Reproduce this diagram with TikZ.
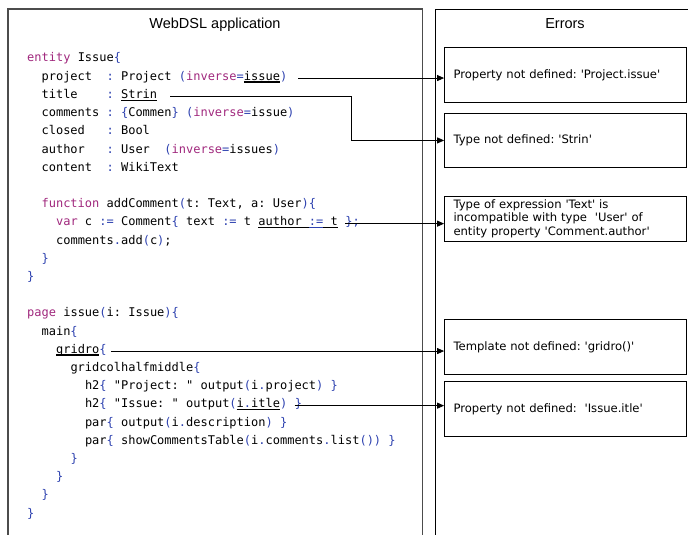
\documentclass[tikz,border=0pt]{standalone}
\usepackage{fontspec}
\usetikzlibrary{positioning,arrows.meta}

\newfontfamily\codefont{DejaVu Sans Mono}
\newfontfamily\errfont{DejaVu Sans}
\newfontfamily\titlefont{Liberation Sans}

\definecolor{kwcol}{RGB}{160,40,125}
\definecolor{symcol}{RGB}{45,65,175}
\newcommand\kw[1]{\textcolor{kwcol}{#1}}
\newcommand\sy[1]{\textcolor{symcol}{#1}}
\newsavebox\markbox
\newcommand\errmark[1]{\sbox\markbox{#1}\rlap{\rule[-2.6pt]{\wd\markbox}{1.4pt}}\usebox\markbox}

\tikzset{
  panel/.style={draw=black!70, line width=1.2pt},
  paneltitle/.style={anchor=base, inner sep=0pt, font=\titlefont\fontsize{14.5}{17}\selectfont},
  code/.style={anchor=base west, inner sep=0pt, font=\codefont\fontsize{12}{14}\selectfont\frenchspacing},
  errbox/.style={draw, line width=0.8pt, text width=224pt, inner xsep=9pt, minimum height=54.5pt,
    align=left, font=\errfont\fontsize{11.6}{13.3}\selectfont\frenchspacing},
  link/.style={draw=black, line width=0.8pt, -{Triangle[length=7pt,width=6pt]}}
}

\begin{document}
\begin{tikzpicture}[x=1pt,y=1pt]
  \useasboundingbox (0,0) rectangle (688,-535);

  % Panels
  \draw[panel] (8,-535) -- (8,-9) -- (422.5,-9) -- (422.5,-535);
  \draw[panel, draw=black, line width=0.9pt] (435,-535) -- (435,-9) -- (688,-9);
  \node[paneltitle] (apptitle) at (215,-28.3) {WebDSL application};
  \node[paneltitle] (errtitle) at (565,-28.3) {Errors};

  % Entity
  \node[code] (l0) at (27,-62) {\kw{entity} Issue\sy{\{}};
  \node[code] (l1) at (41.4,-80.2) {project~~\sy{:} Project \sy{(}\kw{inverse}\sy{=}\errmark{issue}\sy{)}};
  \node[code] (l2) at (41.4,-98.4) {title~~~~\sy{:} \errmark{Strin}};
  \node[code] (l3) at (41.4,-116.6) {comments \sy{:} \sy{\{}Commen\sy{\}} \sy{(}\kw{inverse}\sy{=}issue\sy{)}};
  \node[code] (l4) at (41.4,-134.8) {closed~~~\sy{:} Bool};
  \node[code] (l5) at (41.4,-153) {author~~~\sy{:} User~~\sy{(}\kw{inverse}\sy{=}issues\sy{)}};
  \node[code] (l6) at (41.4,-171.2) {content~~\sy{:} WikiText};

  % Function
  \node[code] (l8) at (41.4,-207.6) {\kw{function} addComment\sy{(}t: Text, a: User\sy{)\{}};
  \node[code] (l9) at (55.9,-225.8) {\kw{var} c \sy{:=} Comment\sy{\{} text \sy{:=} t \errmark{author~}\sy{\errmark{:=}}\errmark{~t}};
  \node[code] (l9e) at ([xshift=7.22pt]l9.base east) {\sy{\};}};
  \node[code] (l10) at (55.9,-244) {comments\sy{.}add\sy{(}c\sy{)};};
  \node[code] (l11) at (41.4,-262.2) {\sy{\}}};
  \node[code] (l12) at (27,-280.4) {\sy{\}}};

  % Page
  \node[code] (l14) at (27,-316.8) {\kw{page} issue\sy{(}i: Issue\sy{)\{}};
  \node[code] (l15) at (41.4,-335) {main\sy{\{}};
  \node[code] (l16) at (55.9,-353.2) {\errmark{gridro}\sy{\{}};
  \node[code] (l17) at (70.3,-371.4) {gridcolhalfmiddle\sy{\{}};
  \node[code] (l18) at (84.8,-389.6) {h2\sy{\{} "Project: " output\sy{(}i\sy{.}project\sy{)} \sy{\}}};
  \node[code] (l19) at (84.8,-407.8) {h2\sy{\{} "Issue: " output\sy{(}\errmark{i\sy{.}itle}\sy{)}};
  \node[code] (l19e) at ([xshift=7.22pt]l19.base east) {\sy{\}}};
  \node[code] (l20) at (84.8,-426) {par\sy{\{} output\sy{(}i\sy{.}description\sy{)} \sy{\}}};
  \node[code] (l21) at (84.8,-444.2) {par\sy{\{} showCommentsTable\sy{(}i\sy{.}comments\sy{.}list\sy{())} \sy{\}}};
  \node[code] (l22) at (70.3,-462.4) {\sy{\}}};
  \node[code] (l23) at (55.9,-480.6) {\sy{\}}};
  \node[code] (l24) at (41.4,-498.8) {\sy{\}}};
  \node[code] (l25) at (27,-517) {\sy{\}}};

  % Errors
  \node[errbox] (err1) at (565.5,-75) {Property not defined: 'Project.issue'};
  \node[errbox, below=10.4pt of err1, minimum height=54pt] (err2) {Type not defined: 'Strin'};
  \node[errbox, below=28.3pt of err2, minimum height=44.3pt] (err3)
    {Type of expression 'Text' is\\incompatible with type~~'User' of\\entity property 'Comment.author'};
  \node[errbox, below=78pt of err3, minimum height=55pt] (err4) {Template not defined: 'gridro()'};
  \node[errbox, below=6pt of err4, minimum height=55pt] (err5) {Property not defined:~~'Issue.itle'};

  % Links
  \draw[link] ([xshift=11pt]l1.mid east) -- (l1.mid east -| err1.west);
  \draw[link] ([xshift=13pt]l2.mid east) -| ([xshift=-93pt]err2.west) -- (err2.west);
  \draw[link] (l9e.mid west) -- (l9e.mid west -| err3.west);
  \draw[link] ([xshift=4pt]l16.mid east) -- (l16.mid east -| err4.west);
  \draw[link] (l19e.mid west) -- (l19e.mid west -| err5.west);
\end{tikzpicture}
\end{document}
